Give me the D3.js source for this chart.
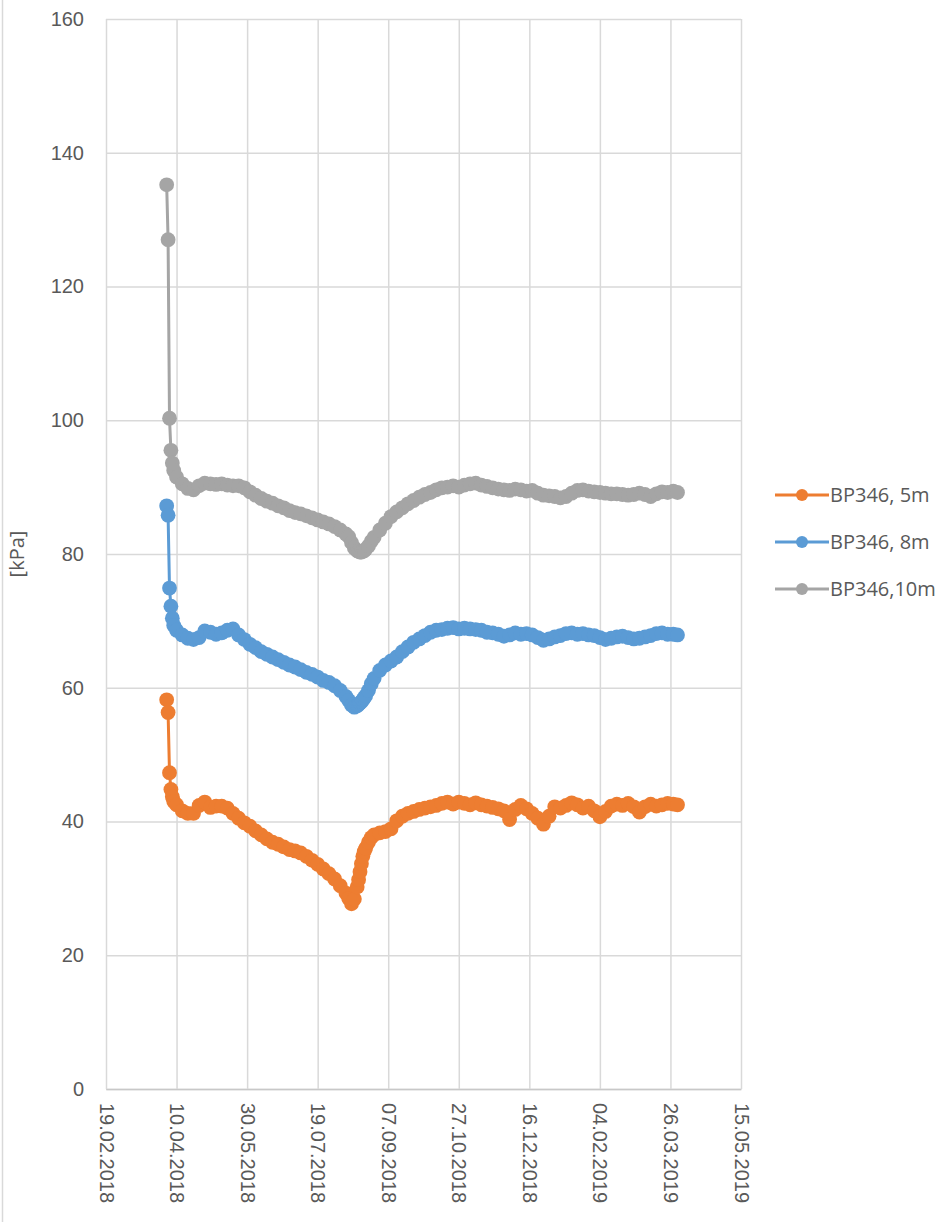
<!DOCTYPE html>
<html>
<head>
<meta charset="utf-8">
<script src="https://cdn.jsdelivr.net/npm/d3@7"></script>
<style>
  body { margin: 0; background: #fff; }
  svg { display: block; font-family: "Open Sans", sans-serif; }
</style>
</head>
<body>
<div id="chart"></div>
<script>
const dates = [
  "2018-04-03","2018-04-04","2018-04-05","2018-04-06","2018-04-07","2018-04-08",
  "2018-04-10","2018-04-14","2018-04-18","2018-04-22","2018-04-26","2018-04-30",
  "2018-05-04","2018-05-08","2018-05-12","2018-05-16","2018-05-20","2018-05-24","2018-05-28",
  "2018-06-01","2018-06-05","2018-06-09","2018-06-13","2018-06-17","2018-06-21","2018-06-25","2018-06-29",
  "2018-07-03","2018-07-07","2018-07-11","2018-07-15","2018-07-19","2018-07-23","2018-07-27","2018-07-31",
  "2018-08-04","2018-08-08","2018-08-10","2018-08-12","2018-08-14","2018-08-16","2018-08-17","2018-08-18",
  "2018-08-19","2018-08-20","2018-08-21",
  "2018-08-22","2018-08-24","2018-08-26","2018-08-28",
  "2018-09-01","2018-09-05","2018-09-09","2018-09-13","2018-09-17","2018-09-21","2018-09-25","2018-09-29",
  "2018-10-03","2018-10-07","2018-10-11","2018-10-15","2018-10-19","2018-10-23","2018-10-27","2018-10-31",
  "2018-11-04","2018-11-08","2018-11-12","2018-11-16","2018-11-20","2018-11-24","2018-11-28",
  "2018-12-02","2018-12-06","2018-12-10","2018-12-14","2018-12-18","2018-12-22","2018-12-26","2018-12-30",
  "2019-01-03","2019-01-07","2019-01-11","2019-01-15","2019-01-19","2019-01-23","2019-01-27","2019-01-31",
  "2019-02-04","2019-02-08","2019-02-12","2019-02-16","2019-02-20","2019-02-24","2019-02-28",
  "2019-03-04","2019-03-08","2019-03-12","2019-03-16","2019-03-20","2019-03-24","2019-03-28","2019-03-31"
];

const bp5m = [
  58.2,56.3,47.3,44.8,43.7,43.0,
  42.5,41.6,41.2,41.2,42.4,42.9,
  42.1,42.3,42.3,42.0,41.2,40.5,39.8,
  39.3,38.6,38.0,37.4,36.9,36.6,36.2,35.8,
  35.6,35.3,34.8,34.2,33.6,32.9,32.2,31.4,
  30.4,29.3,28.5,27.7,28.4,30.2,31.3,32.5,
  33.7,34.8,35.5,
  36.0,36.9,37.6,38.0,
  38.3,38.5,38.9,40.1,40.8,41.2,41.5,41.8,
  42.0,42.2,42.4,42.7,42.9,42.6,42.9,42.7,
  42.5,42.8,42.5,42.3,42.1,41.9,41.6,
  40.3,41.8,42.4,41.9,41.2,40.5,39.6,40.8,
  42.2,42.0,42.4,42.8,42.5,42.0,42.3,41.6,
  40.7,41.5,42.3,42.6,42.4,42.7,42.2,
  41.4,42.2,42.6,42.3,42.5,42.7,42.6,42.5
];

const bp8m = [
  87.2,85.8,74.9,72.2,70.4,69.3,
  68.6,67.9,67.4,67.2,67.5,68.5,
  68.3,68.0,68.2,68.6,68.8,67.9,67.2,
  66.5,66.0,65.4,65.0,64.6,64.2,63.8,63.4,
  63.1,62.7,62.3,62.0,61.6,61.1,60.8,60.3,
  59.6,58.7,58.1,57.4,57.1,57.3,57.5,57.7,
  57.9,58.2,58.5,
  58.8,59.6,60.6,61.4,
  62.6,63.4,64.0,64.6,65.4,66.1,66.8,67.3,
  67.8,68.3,68.6,68.7,68.9,69.0,68.8,68.9,
  68.8,68.7,68.6,68.3,68.2,68.0,67.7,
  67.9,68.2,68.0,68.1,67.9,67.5,67.1,67.3,
  67.6,67.8,68.1,68.2,68.0,68.1,67.9,67.8,
  67.5,67.2,67.4,67.6,67.7,67.5,67.3,
  67.4,67.6,67.8,68.1,68.2,68.0,68.0,67.9
];

const bp10m = [
  135.2,127.0,100.3,95.5,93.6,92.5,
  91.5,90.5,89.8,89.6,90.2,90.6,
  90.5,90.4,90.5,90.3,90.2,90.2,89.9,
  89.3,88.8,88.3,87.9,87.6,87.2,86.9,86.5,
  86.2,86.0,85.7,85.4,85.1,84.8,84.5,84.1,
  83.6,83.0,82.6,81.7,80.9,80.5,80.4,80.3,
  80.3,80.4,80.5,
  80.7,81.2,81.9,82.5,
  83.6,84.6,85.6,86.3,86.9,87.5,88.0,88.5,
  88.9,89.2,89.6,89.9,90.0,90.2,90.0,90.3,
  90.5,90.6,90.3,90.1,89.9,89.7,89.6,
  89.5,89.7,89.6,89.4,89.5,89.1,88.8,88.7,
  88.6,88.4,88.6,89.1,89.5,89.6,89.4,89.3,
  89.2,89.1,89.0,89.0,88.9,88.8,88.9,
  89.1,88.9,88.6,89.0,89.3,89.2,89.4,89.2
];

const seriesNames = ["BP346, 5m", "BP346, 8m", "BP346,10m"];
const seriesColors = ["#ED7D31", "#5B9BD5", "#A5A5A5"];
const xTickLabels = ["19.02.2018","10.04.2018","30.05.2018","19.07.2018","07.09.2018",
                     "27.10.2018","16.12.2018","04.02.2019","26.03.2019","15.05.2019"];
const yTicks = [0, 20, 40, 60, 80, 100, 120, 140, 160];

const W = 948, H = 1222;
const margin = { top: 19, left: 106, right: 207, bottom: 133 };
const width = W - margin.left - margin.right;
const height = H - margin.top - margin.bottom;

const parseIso = d3.utcParse("%Y-%m-%d");
const parseTick = d3.utcParse("%d.%m.%Y");
const fmtTick = d3.utcFormat("%d.%m.%Y");
const tickDates = xTickLabels.map(parseTick);

const svg = d3.select("#chart").append("svg")
  .attr("width", W).attr("height", H);

// left frame edge of the chart area
svg.append("line")
  .attr("x1", 2.5).attr("x2", 2.5).attr("y1", 0).attr("y2", H)
  .attr("stroke", "#d9d9d9").attr("stroke-width", 1.5);

const g = svg.append("g").attr("transform", `translate(${margin.left},${margin.top})`);

const x = d3.scaleUtc()
  .domain([tickDates[0], tickDates[tickDates.length - 1]])
  .range([0, width]);
const y = d3.scaleLinear().domain([0, 160]).range([height, 0]);

// horizontal gridlines + y labels
const yAx = g.append("g")
  .call(d3.axisLeft(y).tickValues(yTicks).tickSize(-width).tickPadding(22));
yAx.select(".domain").remove();
yAx.selectAll("line").attr("stroke", "#d9d9d9").attr("stroke-width", 1.5);
yAx.selectAll("text").attr("fill", "#595959").style("font-size", "20px");

// vertical gridlines + x labels
const xAx = g.append("g").attr("transform", `translate(0,${height})`)
  .call(d3.axisBottom(x).tickValues(tickDates).tickFormat(fmtTick).tickSize(-height).tickSizeOuter(0));
xAx.select(".domain").attr("stroke", "#c8c8c8").attr("stroke-width", 1.5);
xAx.selectAll("line").attr("stroke", "#d9d9d9").attr("stroke-width", 1.5);
xAx.selectAll("text")
  .attr("fill", "#595959").style("font-size", "20px")
  .attr("text-anchor", "start")
  .attr("transform", "rotate(90)")
  .attr("x", 14).attr("y", 0).attr("dy", "0.35em");

// y axis title
svg.append("text")
  .attr("transform", `translate(24,${margin.top + y(80)}) rotate(-90)`)
  .attr("text-anchor", "middle")
  .attr("fill", "#595959")
  .style("font-size", "20px")
  .text("[kPa]");

const seriesValues = [bp5m, bp8m, bp10m];
const line = d3.line().x(d => x(d.date)).y(d => y(d.value));

seriesValues.forEach((vals, i) => {
  const data = vals.map((v, k) => ({ date: parseIso(dates[k]), value: v }));
  const sg = g.append("g");
  sg.append("path")
    .datum(data)
    .attr("fill", "none")
    .attr("stroke", seriesColors[i])
    .attr("stroke-width", 3)
    .attr("d", line);
  sg.selectAll("circle")
    .data(data)
    .enter()
    .append("circle")
    .attr("cx", d => x(d.date))
    .attr("cy", d => y(d.value))
    .attr("r", 7.4)
    .attr("fill", seriesColors[i]);
});

// legend
const legend = svg.append("g").attr("transform", "translate(775,495)");
seriesNames.forEach((name, i) => {
  const lg = legend.append("g").attr("transform", `translate(0,${i * 47})`);
  lg.append("line")
    .attr("x1", 0).attr("x2", 54)
    .attr("stroke", seriesColors[i]).attr("stroke-width", 3);
  lg.append("circle").attr("cx", 27).attr("r", 6).attr("fill", seriesColors[i]);
  lg.append("text")
    .attr("x", 55).attr("dy", "0.35em")
    .attr("fill", "#595959")
    .style("font-size", "20px")
    .text(name);
});
</script>
</body>
</html>
